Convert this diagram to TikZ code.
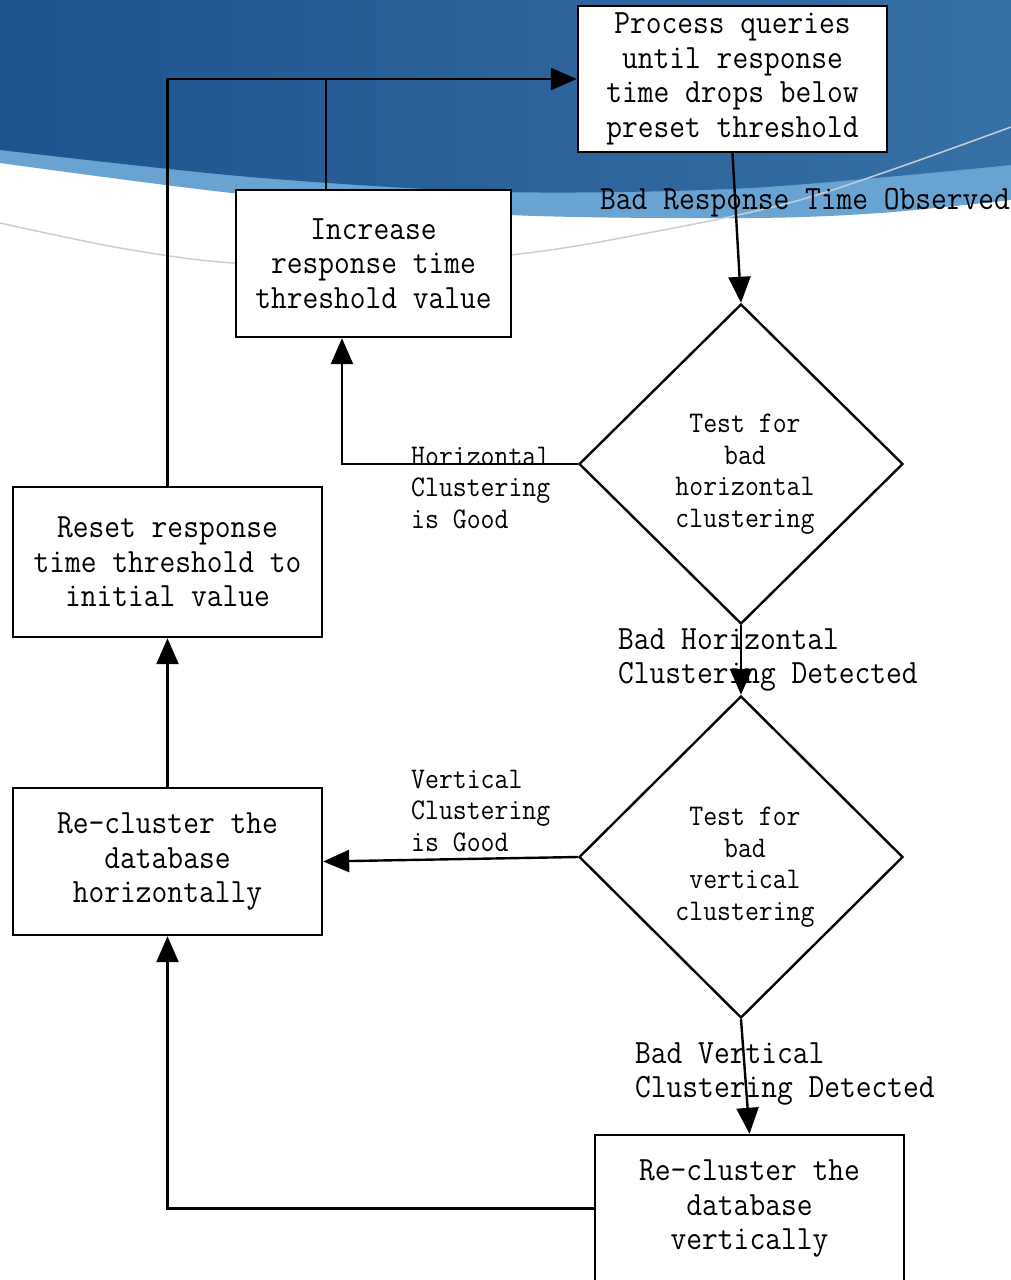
\documentclass[tikz,border=0pt]{standalone}
\usepackage{fontspec}
\setmainfont{Latin Modern Mono}[FakeStretch=0.9]
\usetikzlibrary{shapes.geometric,arrows.meta,calc}
\newcommand\bigtxt{\fontsize{34}{34.5}\selectfont}
\newcommand\smtxt{\fontsize{30}{31.5}\selectfont}
\definecolor{bandlight}{RGB}{105,163,210}
\definecolor{darkL}{RGB}{30,84,142}
\definecolor{darkR}{RGB}{55,112,165}
\definecolor{swoosh}{RGB}{200,206,214}
\begin{document}
\begin{tikzpicture}[x=1pt,y=-1pt,
  box/.style={draw, line width=2.4pt, fill=white, align=center, inner sep=0pt, font=\bigtxt},
  dia/.style={draw, diamond, line width=2.4pt, fill=white, inner sep=0pt},
  arr/.style={line width=2.4pt, -{Triangle[length=26pt,width=22pt]}},
  conn/.style={line width=2.4pt},
  lbl/.style={align=left, inner sep=0pt, font=\bigtxt},
  slbl/.style={align=left, inner sep=0pt, font=\smtxt},
  dtxt/.style={align=center, inner sep=0pt, font=\smtxt}]
\useasboundingbox (0,0) rectangle (1011,1280);
\fill[white] (0,0) rectangle (1011,1280);
% header background
\fill[bandlight] (0,0) -- (1011,0) -- plot[smooth] coordinates {(1011,200) (880,213) (750,218) (510,215) (250,195) (0,163)} -- cycle;
\shade[left color=darkL, right color=darkR] (0,0) -- (1011,0) -- plot[smooth] coordinates {(1011,165) (750,188) (500,192) (250,177) (0,150)} -- cycle;
\draw[swoosh, line width=1.5pt] plot[smooth] coordinates {(0,223) (120,248) (235,263) (400,263) (510,255) (610,240) (800,200) (1011,127)};

% nodes
\node[box, minimum width=309pt, minimum height=146pt] (proc) at (732.5,79)
  {Process queries\\until response\\time drops below\\preset threshold};
\node[box, minimum width=275pt, minimum height=147pt] (inc) at (373.5,263.5)
  {Increase\\response time\\threshold value};
\node[dia, minimum width=324pt, minimum height=320pt] (d1) at (741,464) {};
\node[dtxt] (d1t) at (745,474) {Test for\\bad\\horizontal\\clustering};
\node[dia, minimum width=324pt, minimum height=322pt] (d2) at (741,857) {};
\node[dtxt] (d2t) at (745,867) {Test for\\bad\\vertical\\clustering};
\node[box, minimum width=309pt, minimum height=150pt] (reset) at (167.5,562)
  {Reset response\\time threshold to\\initial value};
\node[box, minimum width=309pt, minimum height=147pt] (rch) at (167.5,861.5)
  {Re-cluster the\\database\\horizontally};
\node[box, minimum width=309pt, minimum height=147pt] (rcv) at (749.5,1208.5)
  {Re-cluster the\\database\\vertically};

% connectors
\draw[arr] (proc.south) -- (d1.north);
\draw[arr] (d1.west) -| ([xshift=-31.5pt]inc.south);
\draw[arr] (reset.north) |- (proc.west);
\draw[conn] ([xshift=-47.5pt]inc.north) -- ([xshift=-47.5pt]inc.north |- proc.west);
\draw[arr] (rch.north) -- (reset.south);
\draw[arr] (d2.west) -- (rch.east);
\draw[arr] (d1.south) -- (d2.north);
\draw[arr] (d2.south) -- (rcv.north);
\draw[arr] (rcv.west) -| (rch.south);

% edge labels
\node[lbl, anchor=base west] (l1) at (600,209) {Bad Response Time Observed};
\node[slbl, anchor=west] (l2) at (411,488) {Horizontal\\Clustering\\is Good};
\node[lbl, anchor=west] (l3) at (618,660) {Bad Horizontal\\Clustering Detected};
\node[slbl, anchor=west] (l4) at (411,811) {Vertical\\Clustering\\is Good};
\node[lbl, anchor=west] (l5) at (635,1074) {Bad Vertical\\Clustering Detected};
\end{tikzpicture}
\end{document}
